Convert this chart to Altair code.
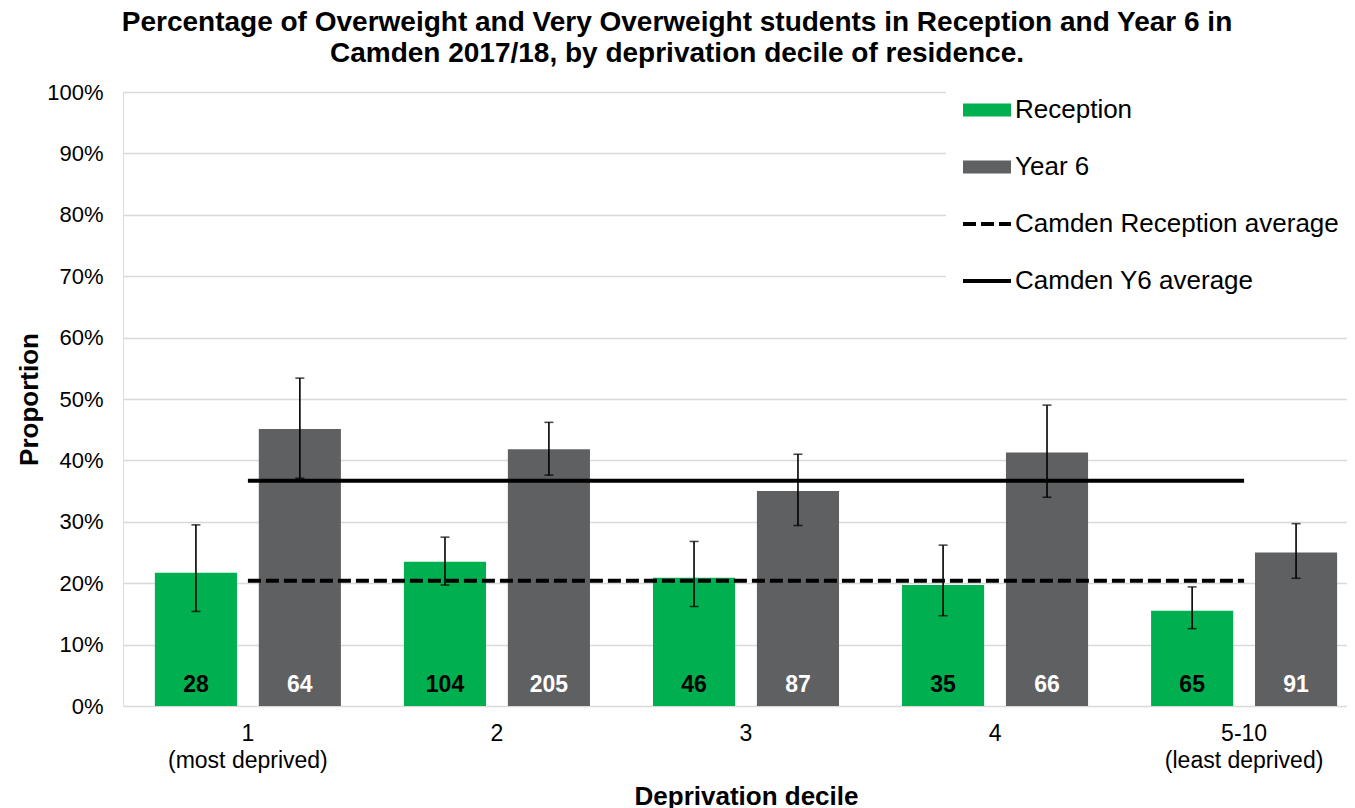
import altair as alt
import pandas as pd

deciles = ["1", "2", "3", "4", "5-10"]
series_names = ["Reception", "Year 6"]
reception_pct = [21.7, 23.5, 20.9, 19.7, 15.5]
reception_lo = [15.4, 19.7, 16.2, 14.7, 12.6]
reception_hi = [29.5, 27.5, 26.8, 26.2, 19.4]
reception_n = [28, 104, 46, 35, 65]
year6_pct = [45.1, 41.8, 35.0, 41.3, 25.0]
year6_lo = [37.1, 37.6, 29.4, 34.0, 20.8]
year6_hi = [53.4, 46.2, 41.0, 49.0, 29.7]
year6_n = [64, 205, 87, 66, 91]
avg_names = ["Camden Reception average", "Camden Y6 average"]
avg_values = [20.4, 36.7]
y_ticks = [0, 10, 20, 30, 40, 50, 60, 70, 80, 90, 100]

FONT = "Liberation Sans"
GREEN, GREY = "#00B050", "#5F6062"

rows, caps = [], []
for i, d in enumerate(deciles):
    for s, p, lo, hi, n, tc in [
        ("Reception", reception_pct[i], reception_lo[i], reception_hi[i], reception_n[i], "black"),
        ("Year 6", year6_pct[i], year6_lo[i], year6_hi[i], year6_n[i], "white"),
    ]:
        rows.append(dict(decile=d, series=s, value=p / 100, lo=lo / 100, hi=hi / 100, n=n, tcolor=tc))
        caps.append(dict(decile=d, series=s, cap=lo / 100))
        caps.append(dict(decile=d, series=s, cap=hi / 100))
df = pd.DataFrame(rows)
caps_df = pd.DataFrame(caps)
avg_df = pd.DataFrame([dict(decile=d, line=nm, avg=v / 100) for nm, v in zip(avg_names, avg_values) for d in deciles])

legend_keys = series_names + avg_names
is_bar = "(datum.value == 'Reception' || datum.value == 'Year 6')"

label_expr = ("datum.value == '1' ? ['1', '(most deprived)'] : "
              "datum.value == '5-10' ? ['5-10', '(least deprived)'] : datum.value")

x_enc = alt.X(
    "decile:N", sort=deciles,
    scale=alt.Scale(range=[0, 1246], paddingInner=0.253, paddingOuter=0.128),
    axis=alt.Axis(title="Deprivation decile", labelExpr=label_expr, labelAngle=0,
                  labelFontSize=23, labelFont=FONT, labelColor="black", labelPadding=16,
                  labelLineHeight=27, ticks=False, domain=False, grid=False,
                  titleFontSize=26, titleFont=FONT, titleFontWeight="bold", titleColor="black",
                  titlePadding=11),
)
xoff = alt.XOffset("series:N", sort=series_names, scale=alt.Scale(paddingInner=0.21, paddingOuter=0))
y_axis = alt.Axis(values=[v / 100 for v in y_ticks], format=".0%", title="Proportion",
                  labelFontSize=22, labelFont=FONT, labelColor="black", labelPadding=20,
                  ticks=False, domain=False, gridColor="#d9d9d9", gridWidth=1.5,
                  titleFontSize=26, titleFont=FONT, titleFontWeight="bold", titleColor="black",
                  titlePadding=4)
y_scale = alt.Scale(domain=[0, 1], nice=False)

legend = alt.Legend(
    orient="none", legendX=823, legendY=-23, title=None,
    symbolType={"expr": is_bar + " ? 'M-1,-0.27H1V0.27H-1Z' : 'stroke'"},
    symbolStrokeColor={"expr": is_bar + " ? 'transparent' : 'black'"},
    symbolStrokeWidth={"expr": is_bar + " ? 0 : 4"},
    symbolDash={"expr": "datum.value == 'Camden Reception average' ? [13, 5] : [1, 0]"},
    symbolSize=2304,
    labelFontSize=26, labelFont=FONT, labelColor="black", labelOffset=15,
    rowPadding=31, labelLimit=800, fillColor="white", padding=28,
)

bars = alt.Chart(df).mark_bar().encode(
    x=x_enc, xOffset=xoff,
    y=alt.Y("value:Q", scale=y_scale, axis=y_axis),
    fill=alt.Fill("series:N", sort=legend_keys,
                  scale=alt.Scale(domain=legend_keys, range=[GREEN, GREY, "black", "black"]),
                  legend=legend),
)

err = alt.Chart(df).mark_rule(color="black", strokeWidth=1.6).encode(
    x=alt.X("decile:N", sort=deciles), xOffset=xoff,
    y=alt.Y("lo:Q", scale=y_scale), y2="hi:Q",
)
cap_marks = alt.Chart(caps_df).mark_tick(color="black", thickness=1.6, size=9, orient="horizontal").encode(
    x=alt.X("decile:N", sort=deciles), xOffset=xoff,
    y=alt.Y("cap:Q", scale=y_scale),
)

lines = alt.Chart(avg_df).mark_line(color="black", strokeWidth=4).encode(
    x=alt.X("decile:N", sort=deciles),
    y=alt.Y("avg:Q", scale=y_scale),
    strokeDash=alt.StrokeDash("line:N", sort=avg_names,
                              scale=alt.Scale(domain=avg_names, range=[[13, 5], [1, 0]]),
                              legend=None),
)

labels = alt.Chart(df).mark_text(fontSize=23, font=FONT, fontWeight="bold", baseline="alphabetic", dy=-14).encode(
    x=alt.X("decile:N", sort=deciles), xOffset=xoff,
    y=alt.datum(0),
    text="n:Q",
    color=alt.Color("tcolor:N", scale=None),
)

chart = alt.layer(bars, err, cap_marks, lines, labels).properties(
    width=1224, height=614,
    title=alt.TitleParams(
        text=["Percentage of Overweight and Very Overweight students in Reception and Year 6 in",
              "Camden 2017/18, by deprivation decile of residence."],
        fontSize=28, font=FONT, fontWeight="bold", color="black", anchor="middle",
        dx=-58, dy=7, lineHeight=31, offset=8),
    autosize=alt.AutoSizeParams(type="none"),
    padding={"left": 115, "top": 84, "right": 0, "bottom": 103},
).resolve_scale(color="independent").configure_view(stroke=None).configure(background="white")

chart.save("out.html", embed_options={"renderer": "svg", "actions": False})
